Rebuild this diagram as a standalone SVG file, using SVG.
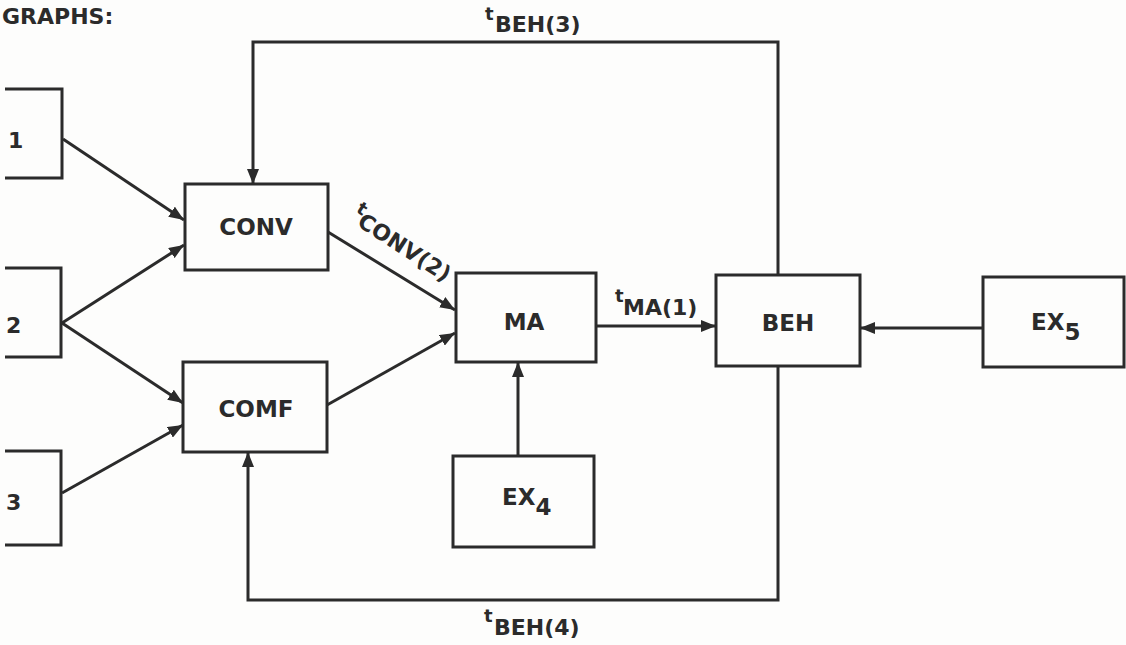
<svg xmlns="http://www.w3.org/2000/svg" width="1126" height="645" viewBox="0 0 1126 645">
<style>
.bg{fill:#fdfdfc}
.box{fill:none;stroke:#2b2b2b;stroke-width:3}
.ln{fill:none;stroke:#2b2b2b;stroke-width:3}
.lbl{font-family:"DejaVu Sans","Liberation Sans",sans-serif;font-weight:bold;font-size:23px;fill:#2b2b2b}
.num{font-family:"DejaVu Sans","Liberation Sans",sans-serif;font-weight:bold;font-size:22px;fill:#2b2b2b}
.sub{font-family:"DejaVu Sans","Liberation Sans",sans-serif;font-weight:bold;font-size:22px;fill:#2b2b2b}
.t{font-family:"DejaVu Sans","Liberation Sans",sans-serif;font-weight:bold;font-size:18px;fill:#2b2b2b}
</style>
<defs>
<marker id="ah" markerUnits="userSpaceOnUse" markerWidth="16" markerHeight="12" refX="15" refY="6" orient="auto">
<path d="M0,0 L15,6 L0,12 z" fill="#2b2b2b"/>
</marker>
</defs>
<rect class="bg" x="0" y="0" width="1126" height="645"/>
<text class="num" x="2" y="24">GRAPHS:</text>

<g id="box1"><path class="box" d="M5,89 H62 V178 H5"/><text class="num" x="8" y="148">1</text></g>
<g id="box2"><path class="box" d="M5,268 H61 V357 H5"/><text class="num" x="6" y="333">2</text></g>
<g id="box3"><path class="box" d="M5,451 H61 V545 H5"/><text class="num" x="6" y="510">3</text></g>
<g id="conv"><rect class="box" x="185" y="184" width="143" height="86"/><text class="lbl" x="256" y="235" text-anchor="middle">CONV</text></g>
<g id="comf"><rect class="box" x="183" y="362" width="144" height="90"/><text class="lbl" x="256" y="417" text-anchor="middle">COMF</text></g>
<g id="ma"><rect class="box" x="456" y="273" width="140" height="89"/><text class="lbl" x="524" y="330" text-anchor="middle">MA</text></g>
<g id="beh"><rect class="box" x="716" y="275" width="144" height="91"/><text class="lbl" x="788" y="331" text-anchor="middle">BEH</text></g>
<g id="ex4"><rect class="box" x="453" y="456" width="141" height="91"/><text class="lbl" x="502" y="505">EX<tspan dy="10">4</tspan></text></g>
<g id="ex5"><rect class="box" x="983" y="277" width="141" height="90"/><text class="lbl" x="1031" y="330">EX<tspan dy="10">5</tspan></text></g>

<g id="connectors">
<line class="ln" x1="63" y1="139" x2="184" y2="220" marker-end="url(#ah)"/>
<line class="ln" x1="62" y1="323" x2="184" y2="245" marker-end="url(#ah)"/>
<line class="ln" x1="62" y1="323" x2="183" y2="403" marker-end="url(#ah)"/>
<line class="ln" x1="62" y1="493" x2="183" y2="425" marker-end="url(#ah)"/>
<line class="ln" x1="328" y1="232" x2="455" y2="310" marker-end="url(#ah)"/>
<line class="ln" x1="327" y1="405" x2="455" y2="333" marker-end="url(#ah)"/>
<line class="ln" x1="596" y1="326" x2="716" y2="326" marker-end="url(#ah)"/>
<line class="ln" x1="518" y1="456" x2="518" y2="362" marker-end="url(#ah)"/>
<line class="ln" x1="983" y1="328" x2="860" y2="328" marker-end="url(#ah)"/>
<path class="ln" d="M778,275 V42 H253 V184" marker-end="url(#ah)"/>
<path class="ln" d="M778,366 V600 H248 V452" marker-end="url(#ah)"/>
<g id="lbl-beh3"><text class="t" x="485" y="20">t</text><text class="sub" x="495" y="32">BEH(3)</text></g>
<g id="lbl-ma1"><text class="t" x="615" y="302">t</text><text class="sub" x="623" y="315">MA(1)</text></g>
<g id="lbl-beh4"><text class="t" x="484" y="622">t</text><text class="sub" x="494" y="635">BEH(4)</text></g>
<g id="lbl-conv2" transform="translate(356,225) rotate(33)"><text class="t" x="-8" y="-11">t</text><text class="sub" x="0" y="0">CONV(2)</text></g>
</g>
</svg>
